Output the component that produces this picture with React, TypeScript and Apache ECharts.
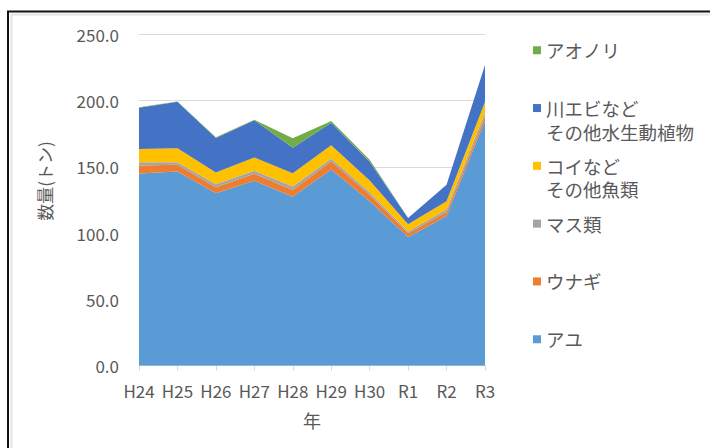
import React, { useEffect, useRef } from "react";
import * as echarts from "echarts";

const categories = ["H24", "H25", "H26", "H27", "H28", "H29", "H30", "R1", "R2", "R3"];
const ayu = [145, 146.5, 130, 139.5, 127.5, 148, 124, 97, 113, 185];
const unagi = [6, 5, 4.6, 5.3, 5, 6.3, 5, 3, 3, 3];
const masu = [2.5, 2, 2.2, 2.3, 2.6, 2, 1.8, 1.3, 2, 3];
const koi = [10, 10.6, 9, 10, 10, 10, 9, 5.5, 6, 8];
const kawaebi = [31, 35, 26, 28, 19.4, 17, 14, 4.6, 12.5, 27.8];
const aonori = [0.5, 0.3, 0.5, 0.5, 7, 1.3, 1.5, 0, 0, 0];

const seriesNames = ["アユ", "ウナギ", "マス類", "コイなどその他魚類", "川エビなどその他水生動植物", "アオノリ"];
const legendLines: Record<string, string[]> = {
  "アユ": ["アユ"],
  "ウナギ": ["ウナギ"],
  "マス類": ["マス類"],
  "コイなどその他魚類": ["コイなど", "その他魚類"],
  "川エビなどその他水生動植物": ["川エビなど", "その他水生動植物"],
  "アオノリ": ["アオノリ"],
};
const seriesValues = [ayu, unagi, masu, koi, kawaebi, aonori];
const colors = ["#5B9BD5", "#ED7D31", "#A5A5A5", "#FFC000", "#4472C4", "#70AD47"];

const FONT = "'Noto Sans CJK JP', 'Noto Sans', sans-serif";

export default function App() {
  const ref = useRef<HTMLDivElement>(null);
  useEffect(() => {
    if (!ref.current) return;
    const chart = echarts.init(ref.current, null, { renderer: "svg" });
    chart.setOption({
      animation: false,
      backgroundColor: "#ffffff",
      textStyle: { fontFamily: FONT },
      color: colors,
      grid: { left: 139, right: 225, top: 34.3, bottom: 82.3, containLabel: false },
      graphic: [
        {
          type: "rect",
          shape: { x: 8, y: 11.5, width: 720, height: 460 },
          style: { fill: "none", stroke: "#111111", lineWidth: 2 },
          silent: true,
        },
        {
          type: "rect",
          shape: { x: 11.5, y: 14.5, width: 720, height: 460 },
          style: { fill: "none", stroke: "#e4e4e4", lineWidth: 2 },
          silent: true,
        },
      ],
      legend: {
        orient: "vertical",
        left: 528,
        top: 33.5,
        itemWidth: 8,
        itemHeight: 47,
        itemGap: 10.8,
        icon: "path://M0,0M0,47M0,7.75h8v8h-8z",
        itemStyle: { borderWidth: 0 },
        data: seriesNames.slice().reverse(),
        formatter: (name: string) => {
          const lines = legendLines[name] || [name];
          return lines.length > 1 ? lines.join("\n") : lines[0] + "\n ";
        },
        textStyle: { fontSize: 18.5, lineHeight: 23.5, color: "#595959", fontFamily: FONT },
      },
      xAxis: {
        type: "category",
        data: categories,
        boundaryGap: false,
        name: "年",
        nameLocation: "middle",
        nameGap: 45,
        nameTextStyle: { fontSize: 18, color: "#595959", verticalAlign: "top" },
        axisLine: { lineStyle: { color: "#d9d9d9", width: 1 } },
        axisTick: { show: true, length: 5, interval: 0, lineStyle: { color: "#d9d9d9" } },
        axisLabel: { color: "#595959", fontSize: 17, margin: 16, interval: 0, hideOverlap: false },
      },
      yAxis: {
        type: "value",
        min: 0,
        max: 250,
        interval: 50,
        name: "数量(トン)",
        nameLocation: "middle",
        nameRotate: 90,
        nameGap: 86,
        nameTextStyle: { fontSize: 17, color: "#595959", padding: [0, 0, 0, 38] },
        axisLine: { show: false },
        axisTick: { show: false },
        splitLine: { lineStyle: { color: "#d9d9d9", width: 1 } },
        axisLabel: {
          color: "#595959",
          fontSize: 17,
          margin: 20,
          formatter: (v: number) => v.toFixed(1),
        },
      },
      series: seriesNames.map((name, i) => ({
        name,
        type: "line",
        stack: "total",
        data: seriesValues[i],
        symbol: "none",
        lineStyle: { width: 0 },
        areaStyle: { color: colors[i], opacity: 1 },
        itemStyle: { color: colors[i] },
      })),
    });
    return () => chart.dispose();
  }, []);
  return (
    <div
      ref={ref}
      style={{ position: "fixed", left: 0, top: 0, width: 710, height: 448 }}
    />
  );
}
